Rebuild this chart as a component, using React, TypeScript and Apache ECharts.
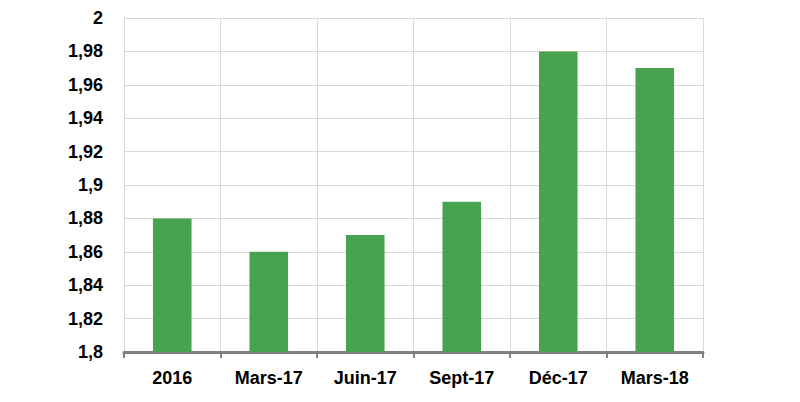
import React, { useEffect, useRef } from "react";
import * as echarts from "echarts";

const categories = ["2016", "Mars-17", "Juin-17", "Sept-17", "Déc-17", "Mars-18"];
const values = [1.88, 1.86, 1.87, 1.89, 1.98, 1.97];
const yMin = 1.8;
const yMax = 2;
const yStep = 0.02;

const FONT = "'Liberation Sans', Arial, sans-serif";

export default function App() {
  const ref = useRef<HTMLDivElement>(null);
  useEffect(() => {
    if (!ref.current) return;
    const chart = echarts.init(ref.current, undefined, { renderer: "svg" });
    chart.setOption({
      animation: false,
      backgroundColor: "#ffffff",
      grid: { left: 124, right: 97, top: 18, bottom: 50 },
      xAxis: {
        type: "category",
        data: categories,
        boundaryGap: true,
        axisLine: { show: true, lineStyle: { color: "#808080", width: 3 } },
        axisTick: { show: true, interval: 0, length: 6, lineStyle: { color: "#808080", width: 2 } },
        splitLine: { show: true, interval: 0, lineStyle: { color: "#d9d9d9", width: 1 } },
        axisLabel: {
          interval: 0,
          margin: 17,
          color: "#000000",
          fontFamily: FONT,
          fontWeight: "bold",
          fontSize: 18,
        },
      },
      yAxis: {
        type: "value",
        min: yMin,
        max: yMax,
        interval: yStep,
        axisLine: { show: true, lineStyle: { color: "#d9d9d9", width: 1 } },
        axisTick: { show: false },
        splitLine: { show: true, lineStyle: { color: "#d9d9d9", width: 1 } },
        axisLabel: {
          margin: 21,
          color: "#000000",
          fontFamily: FONT,
          fontWeight: "bold",
          fontSize: 18,
          formatter: (v: number) => String(+v.toFixed(2)).replace(".", ","),
        },
      },
      series: [
        {
          type: "bar",
          data: values,
          barWidth: "40%",
          itemStyle: { color: "#47A34F" },
        },
      ],
    });
    return () => chart.dispose();
  }, []);
  return (
    <div
      ref={ref}
      style={{ position: "fixed", left: 0, top: 0, width: 800, height: 402 }}
    />
  );
}
